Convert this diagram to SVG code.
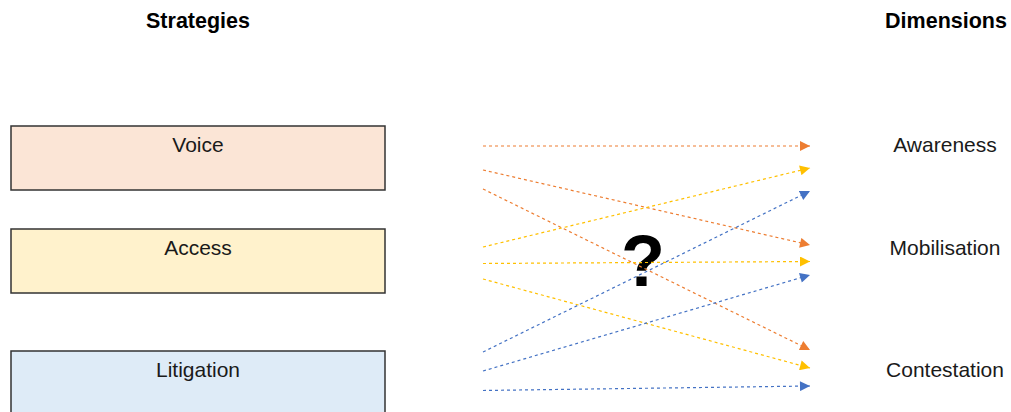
<svg xmlns="http://www.w3.org/2000/svg" width="1011" height="412" viewBox="0 0 1011 412">
<style>
text{font-family:"Liberation Sans",Arial,sans-serif;fill:#000}
.hdr{font-size:21.5px;font-weight:bold;text-anchor:middle}
.lbl{font-size:21px;text-anchor:middle;fill:#1a1a1a}
.box{stroke:#333;stroke-width:1.5}
.c{fill:none;stroke-width:1.2;stroke-dasharray:3 3}
.o{stroke:#ED7D31}.y{stroke:#FFC000}.b{stroke:#4472C4}
</style>
<defs>
<marker id="ao" viewBox="0 0 10 10" refX="10" refY="5" markerWidth="11" markerHeight="10" markerUnits="userSpaceOnUse" orient="auto"><path d="M0,0L10,5L0,10z" fill="#ED7D31"/></marker>
<marker id="ay" viewBox="0 0 10 10" refX="10" refY="5" markerWidth="11" markerHeight="10" markerUnits="userSpaceOnUse" orient="auto"><path d="M0,0L10,5L0,10z" fill="#FFC000"/></marker>
<marker id="ab" viewBox="0 0 10 10" refX="10" refY="5" markerWidth="11" markerHeight="10" markerUnits="userSpaceOnUse" orient="auto"><path d="M0,0L10,5L0,10z" fill="#4472C4"/></marker>
</defs>
<rect width="1011" height="412" fill="#fff"/>
<g id="headers">
<text class="hdr" x="946" y="28">Dimensions</text>
<text class="hdr" x="198" y="28">Strategies</text>
</g>
<g id="voice"><rect class="box" x="11" y="126" width="374" height="64" fill="#FBE5D6"/><text class="lbl" x="198" y="151.5">Voice</text></g>
<g id="access"><rect class="box" x="11" y="229" width="374" height="64" fill="#FFF2CC"/><text class="lbl" x="198" y="254.5">Access</text></g>
<g id="litigation"><rect class="box" x="11" y="351" width="374" height="70" fill="#DEEBF7"/><text class="lbl" x="198" y="376.5">Litigation</text></g>
<g id="awareness"><text class="lbl" x="945" y="151.5">Awareness</text></g>
<g id="mobilisation"><text class="lbl" x="945" y="254.5">Mobilisation</text></g>
<g id="contestation"><text class="lbl" x="945" y="376.5">Contestation</text></g>
<g id="question"><text x="643" y="286" style="font-size:72px;font-weight:bold;text-anchor:middle">?</text></g>
<g id="connectors">
<line class="c o" x1="483" y1="146" x2="810" y2="146" marker-end="url(#ao)"/>
<line class="c o" x1="483" y1="170" x2="810" y2="245" marker-end="url(#ao)"/>
<line class="c o" x1="483" y1="189" x2="810" y2="350" marker-end="url(#ao)"/>
<line class="c y" x1="483" y1="247" x2="810" y2="168" marker-end="url(#ay)"/>
<line class="c y" x1="483" y1="263.5" x2="810" y2="261.5" marker-end="url(#ay)"/>
<line class="c y" x1="483" y1="279" x2="810" y2="368" marker-end="url(#ay)"/>
<line class="c b" x1="483" y1="352" x2="810" y2="191" marker-end="url(#ab)"/>
<line class="c b" x1="483" y1="371" x2="810" y2="275" marker-end="url(#ab)"/>
<line class="c b" x1="483" y1="390.5" x2="810" y2="386" marker-end="url(#ab)"/>
</g>
</svg>
